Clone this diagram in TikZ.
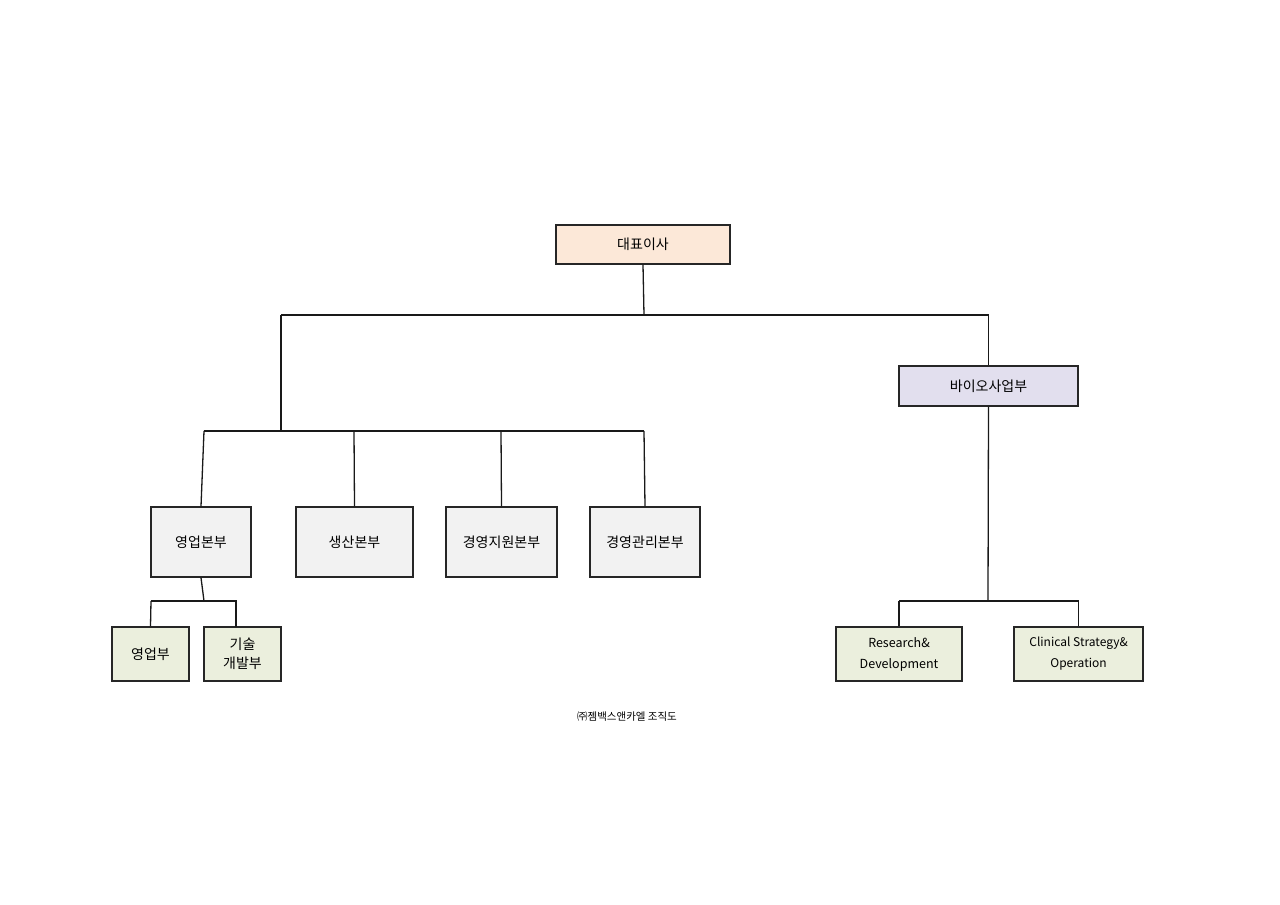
\documentclass[tikz,border=0pt]{standalone}
\usepackage{fontspec}
\setmainfont{Noto Sans CJK KR}
\begin{document}
\begin{tikzpicture}[x=1pt,y=-1pt,
  box/.style={draw=black!85,line width=1.3pt,inner sep=0pt,align=center,font=\fontsize{14}{19}\selectfont},
  ln/.style={draw=black!90,line width=1.3pt}]
\useasboundingbox (0,0) rectangle (1280,905);
\definecolor{peach}{HTML}{FCE8D8}
\definecolor{lav}{HTML}{E2DFEE}
\definecolor{gr}{HTML}{F2F2F2}
\definecolor{gn}{HTML}{EBEFDD}
\newcommand{\bx}[7]{\node[box,fill=#6,minimum width=#3-#2,minimum height=#5-#4] (#1) at ({(#2+#3)/2},{(#4+#5)/2}) {#7};}
\bx{ceo}{556}{730}{225}{264}{peach}{대표이사}
\bx{bio}{899}{1078}{366}{406}{lav}{바이오사업부}
\bx{s1}{151}{251}{507}{577}{gr}{영업본부}
\bx{s2}{296}{413}{507}{577}{gr}{생산본부}
\bx{s3}{446}{557}{507}{577}{gr}{경영지원본부}
\bx{s4}{590}{700}{507}{577}{gr}{경영관리본부}
\bx{t1}{112}{189}{627}{681}{gn}{영업부}
\bx{t2}{204}{281}{627}{681}{gn}{기술\\개발부}
\node[box,fill=gn,minimum width=126,minimum height=54,font=\fontsize{12.5}{21}\selectfont] (r1) at (899,654) {Research\&\\Development};
\node[box,fill=gn,minimum width=129,minimum height=54,font=\fontsize{12}{21}\selectfont] (r2) at (1078.5,654) {Clinical Strategy\&\\Operation};
\coordinate (a) at (644,315);
\coordinate (b) at (281,431);
\coordinate (c) at (204,601);
\coordinate (d) at (988,601);
\draw[ln] (ceo.south) -- (a);
\draw[ln] (281,315) -| (bio.north);
\draw[ln] (281,315) -- (b);
\draw[ln] (204,431) -- (644,431);
\draw[ln] (204,431) -- (s1.north);
\draw[ln] (354,431) -- (s2.north);
\draw[ln] (501,431) -- (s3.north);
\draw[ln] (644,431) -- (s4.north);
\draw[ln] (s1.south) -- (c);
\draw[ln] (151,601) -- (t1.north);
\draw[ln] (151,601) -| (236,627);
\draw[ln] (bio.south) -- (d);
\draw[ln] (899,601) -- (r1.north);
\draw[ln] (899,601) -| (r2.north);
\node[font=\fontsize{10.5}{12}\selectfont] (cap) at (627,717) {㈜젬백스앤카엘 조직도};
\end{tikzpicture}
\end{document}
